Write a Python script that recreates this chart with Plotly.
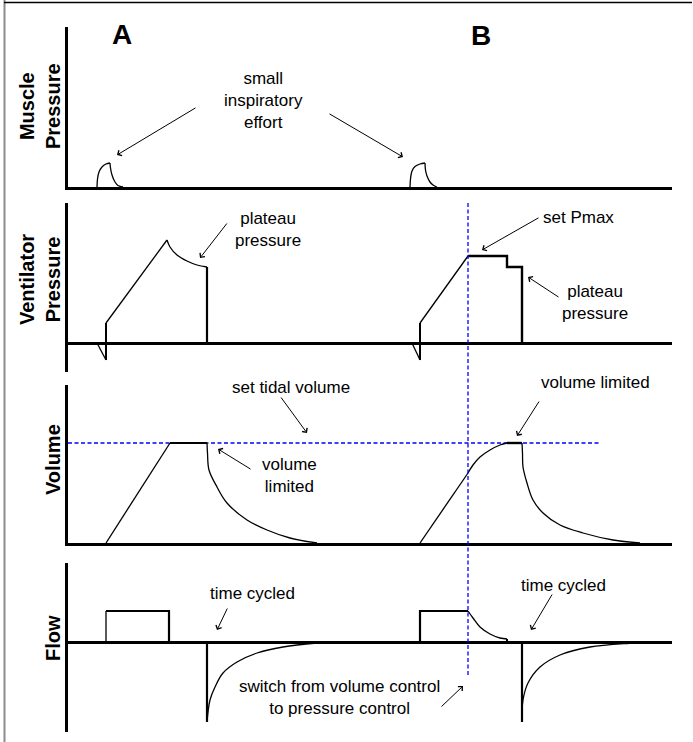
import plotly.graph_objects as go
from plotly.subplots import make_subplots

# time axis in arbitrary units, shared by all four traces
# muscle pressure (patient effort)
MUSCLE_A_T = [2.9, 2.95, 3.1, 3.4, 3.8, 4.2, 4.25, 4.4, 4.7, 5.0, 5.5]
MUSCLE_A_Y = [0, 0.8, 1.5, 2.0, 2.3, 2.4, 1.9, 1.2, 0.5, 0.15, 0]
MUSCLE_B_T = [34.2, 34.25, 34.4, 34.7, 35.2, 35.7, 35.75, 35.9, 36.2, 36.5, 36.9]
MUSCLE_B_Y = [0, 0.8, 1.6, 2.05, 2.3, 2.4, 1.7, 1.1, 0.5, 0.2, 0]

# ventilator (airway) pressure
PRES_A_T = [2.9, 3.8, 3.8, 9.9, 10.2, 10.9, 11.9, 12.9, 13.9, 13.9]
PRES_A_Y = [0, -1.7, 2.0, 10.3, 9.6, 8.8, 8.2, 7.8, 7.6, 0]
PRES_B_T = [34.4, 35.2, 35.2, 40.0, 43.9, 43.9, 45.4, 45.4]
PRES_B_Y = [0, -1.7, 2.0, 8.7, 8.7, 7.6, 7.6, 0]

# volume
SET_TIDAL = 10.0
TIDAL_T = [0, 53.2]
VOL_A_T = [3.8, 10.2, 13.9, 13.95, 14.1, 14.9, 15.9, 17.9, 19.9, 22.2, 24.9]
VOL_A_Y = [0, 10, 10, 9.0, 7.3, 5.6, 4.0, 2.3, 1.3, 0.5, 0]
VOL_B_T = [35.2, 40.0, 40.5, 41.2, 42.2, 43.2, 43.9, 45.4, 45.45, 45.5, 45.9,
           46.5, 47.5, 49.2, 51.5, 54.5, 57.2]
VOL_B_Y = [0, 7.0, 7.8, 8.6, 9.3, 9.8, 10, 10, 9.0, 7.6, 6.0,
           4.3, 3.0, 1.8, 1.0, 0.3, 0]

# flow
FLOW_A_T = [3.8, 3.8, 10.1, 10.1]
FLOW_A_Y = [0, 3.1, 3.1, 0]
FLOW_A_EXP_T = [13.9, 13.9, 14.2, 14.7, 15.5, 16.9, 18.9, 21.5, 24.9, 26.5]
FLOW_A_EXP_Y = [0, -8.0, -5.8, -4.5, -3.1, -2.0, -1.1, -0.5, -0.1, 0]
FLOW_B_T = [35.2, 35.2, 40.0, 40.5, 41.2, 42.2, 43.2, 43.9, 43.9]
FLOW_B_Y = [0, 3.1, 3.1, 2.4, 1.5, 0.8, 0.4, 0.3, 0]
FLOW_B_EXP_T = [45.4, 45.4, 45.5, 46.0, 47.2, 49.2, 52.2, 56.5, 58.0]
FLOW_B_EXP_Y = [0, -8.0, -5.8, -4.1, -2.5, -1.3, -0.5, -0.1, 0]

SWITCH_T = 40.0  # switch from volume control to pressure control

W, H = 693, 742
FONT = "Liberation Sans, Arial, sans-serif"
BLUE = "#0000ff"
DASH = "4px,2.5px"


def dom(top, bot):
    return [1 - bot / H, 1 - top / H]


fig = make_subplots(rows=4, cols=1, shared_xaxes=True)


def line(t, y, row, width=1.3, color="black", dash=None, shape="linear"):
    fig.add_trace(go.Scatter(x=t, y=y, mode="lines", hoverinfo="skip",
                             line=dict(color=color, width=width, dash=dash,
                                       shape=shape, smoothing=1.0)),
                  row=row, col=1)


# muscle pressure
line(MUSCLE_A_T[:6], MUSCLE_A_Y[:6], 1, shape="spline")
line(MUSCLE_A_T[5:], MUSCLE_A_Y[5:], 1, shape="spline")
line(MUSCLE_B_T[:6], MUSCLE_B_Y[:6], 1, shape="spline")
line(MUSCLE_B_T[5:], MUSCLE_B_Y[5:], 1, shape="spline")

# ventilator pressure
line(PRES_A_T[:2], PRES_A_Y[:2], 2)
line(PRES_A_T[1:3], PRES_A_Y[1:3], 2, width=2)
line(PRES_A_T[2:4], PRES_A_Y[2:4], 2)
line(PRES_A_T[3:9], PRES_A_Y[3:9], 2, shape="spline")
line(PRES_A_T[-2:], PRES_A_Y[-2:], 2, width=2.2)
line(PRES_B_T[:2], PRES_B_Y[:2], 2)
line(PRES_B_T[1:3], PRES_B_Y[1:3], 2, width=2)
line(PRES_B_T[2:4], PRES_B_Y[2:4], 2)
line(PRES_B_T[3:], PRES_B_Y[3:], 2, width=2.4)

# volume
line(TIDAL_T, [SET_TIDAL] * 2, 3, width=1.3, color=BLUE, dash=DASH)
line(VOL_A_T[:2], VOL_A_Y[:2], 3)
line(VOL_A_T[1:3], VOL_A_Y[1:3], 3, width=2.2)
line(VOL_A_T[2:], VOL_A_Y[2:], 3, shape="spline")
line(VOL_B_T[:2], VOL_B_Y[:2], 3)
line(VOL_B_T[1:7], VOL_B_Y[1:7], 3, shape="spline")
line(VOL_B_T[6:8], VOL_B_Y[6:8], 3, width=2.4)
line(VOL_B_T[7:], VOL_B_Y[7:], 3, shape="spline")

# flow
line(FLOW_A_T[:2], FLOW_A_Y[:2], 4)
line(FLOW_A_T[1:], FLOW_A_Y[1:], 4, width=2.2)
line(FLOW_A_EXP_T[:2], FLOW_A_EXP_Y[:2], 4, width=2.2)
line(FLOW_A_EXP_T[1:], FLOW_A_EXP_Y[1:], 4, shape="spline")
line(FLOW_B_T[:3], FLOW_B_Y[:3], 4, width=2.2)
line(FLOW_B_T[2:8], FLOW_B_Y[2:8], 4, shape="spline")
line(FLOW_B_T[-2:], FLOW_B_Y[-2:], 4, width=2)
line(FLOW_B_EXP_T[:2], FLOW_B_EXP_Y[:2], 4, width=2.2)
line(FLOW_B_EXP_T[1:], FLOW_B_EXP_Y[1:], 4, shape="spline")

# panel geometry (pixel top/bottom of each y axis line) and ranges
panels = [
    (27, 187, [0, 16.0], False),
    (203, 372, [-2.9, 14.0], True),
    (385, 543, [0, 15.8], False),
    (563, 732, [-9.0, 7.9], True),
]
for i, (top, bot, rng, mid_base) in enumerate(panels, start=1):
    fig.update_yaxes(domain=dom(top, bot), range=rng, showline=True,
                     linewidth=3, linecolor="black", showgrid=False,
                     showticklabels=False, ticks="", zeroline=mid_base,
                     zerolinewidth=3, zerolinecolor="black",
                     fixedrange=True, row=i, col=1)
    fig.update_xaxes(domain=[68 / W, 672 / W], range=[0, 60.4],
                     showline=not mid_base, linewidth=3, linecolor="black",
                     showgrid=False, showticklabels=False, ticks="",
                     zeroline=False, fixedrange=True, row=i, col=1)

# blue dashed switch line spanning the lower three panels
fig.add_shape(type="line", xref="x2", yref="paper", x0=SWITCH_T, x1=SWITCH_T,
              y0=1 - 675 / H, y1=1 - 203 / H,
              line=dict(color=BLUE, width=1.3, dash=DASH))

# frame: grey left edge, black top edge
fig.add_shape(type="line", xref="paper", yref="paper", x0=4.5 / W, x1=4.5 / W,
              y0=0, y1=1, line=dict(color="#8c8c8c", width=2))
fig.add_shape(type="line", xref="paper", yref="paper", x0=4 / W, x1=692 / W,
              y0=1 - 2.5 / H, y1=1 - 2.5 / H, line=dict(color="black", width=1.5))

# text labels, pixel positions: (x, y, text, size, bold)
labels = [
    (122, 35, "A", 28, True),
    (481, 36, "B", 28, True),
    (263, 100, "small<br>inspiratory<br>effort", 17, False),
    (268, 229, "plateau<br>pressure", 17, False),
    (578, 217, "set Pmax", 17, False),
    (595, 303, "plateau<br>pressure", 17, False),
    (291, 387, "set tidal volume", 17, False),
    (289, 475, "volume<br>limited", 17, False),
    (595, 383, "volume limited", 17, False),
    (252, 593, "time cycled", 17, False),
    (563, 585, "time cycled", 17, False),
    (339, 697, "switch from volume control<br>to pressure control", 17, False),
]
for px, py, text, size, bold in labels:
    fig.add_annotation(x=px / W, y=1 - py / H, xref="paper", yref="paper",
                       text=text, showarrow=False, xanchor="center",
                       yanchor="middle",
                       font=dict(family=FONT, size=size, color="black",
                                 weight="bold" if bold else "normal"))

# arrows, pixel positions: (tail x, tail y, head x, head y)
arrows = [
    (197, 107, 117, 155),
    (328, 113, 403, 157),
    (228, 222, 200, 258),
    (540, 217, 482, 250),
    (560, 298, 528, 277),
    (280, 396, 307, 433),
    (252, 470, 218, 449),
    (540, 400, 517, 436),
    (228, 607, 217, 630),
    (553, 593, 531, 630),
    (440, 708, 463, 686),
]
for x0, y0, x1, y1 in arrows:
    fig.add_annotation(x=x1 / W, y=1 - y1 / H, xref="paper", yref="paper",
                       ax=x0 - x1, ay=y0 - y1, axref="pixel", ayref="pixel",
                       text="", showarrow=True, arrowhead=4, arrowsize=1.2,
                       arrowwidth=1, arrowcolor="black", standoff=0)

# axis titles
titles = [
    (40, 106, "Muscle<br>Pressure"),
    (40, 280, "Ventilator<br>Pressure"),
    (53, 460, "Volume"),
    (53, 638, "Flow"),
]
for px, py, text in titles:
    fig.add_annotation(x=px / W, y=1 - py / H, xref="paper", yref="paper",
                       text=text, textangle=-90, showarrow=False,
                       xanchor="center", yanchor="middle",
                       font=dict(family=FONT, size=20, color="black",
                                 weight="bold"))

fig.update_layout(width=W, height=H, margin=dict(l=0, r=0, t=0, b=0),
                  paper_bgcolor="white", plot_bgcolor="white",
                  showlegend=False)

fig.write_html("out.html", config={"displayModeBar": False},
               post_script="document.body.style.margin='0';"
                           "document.body.style.padding='0';")
